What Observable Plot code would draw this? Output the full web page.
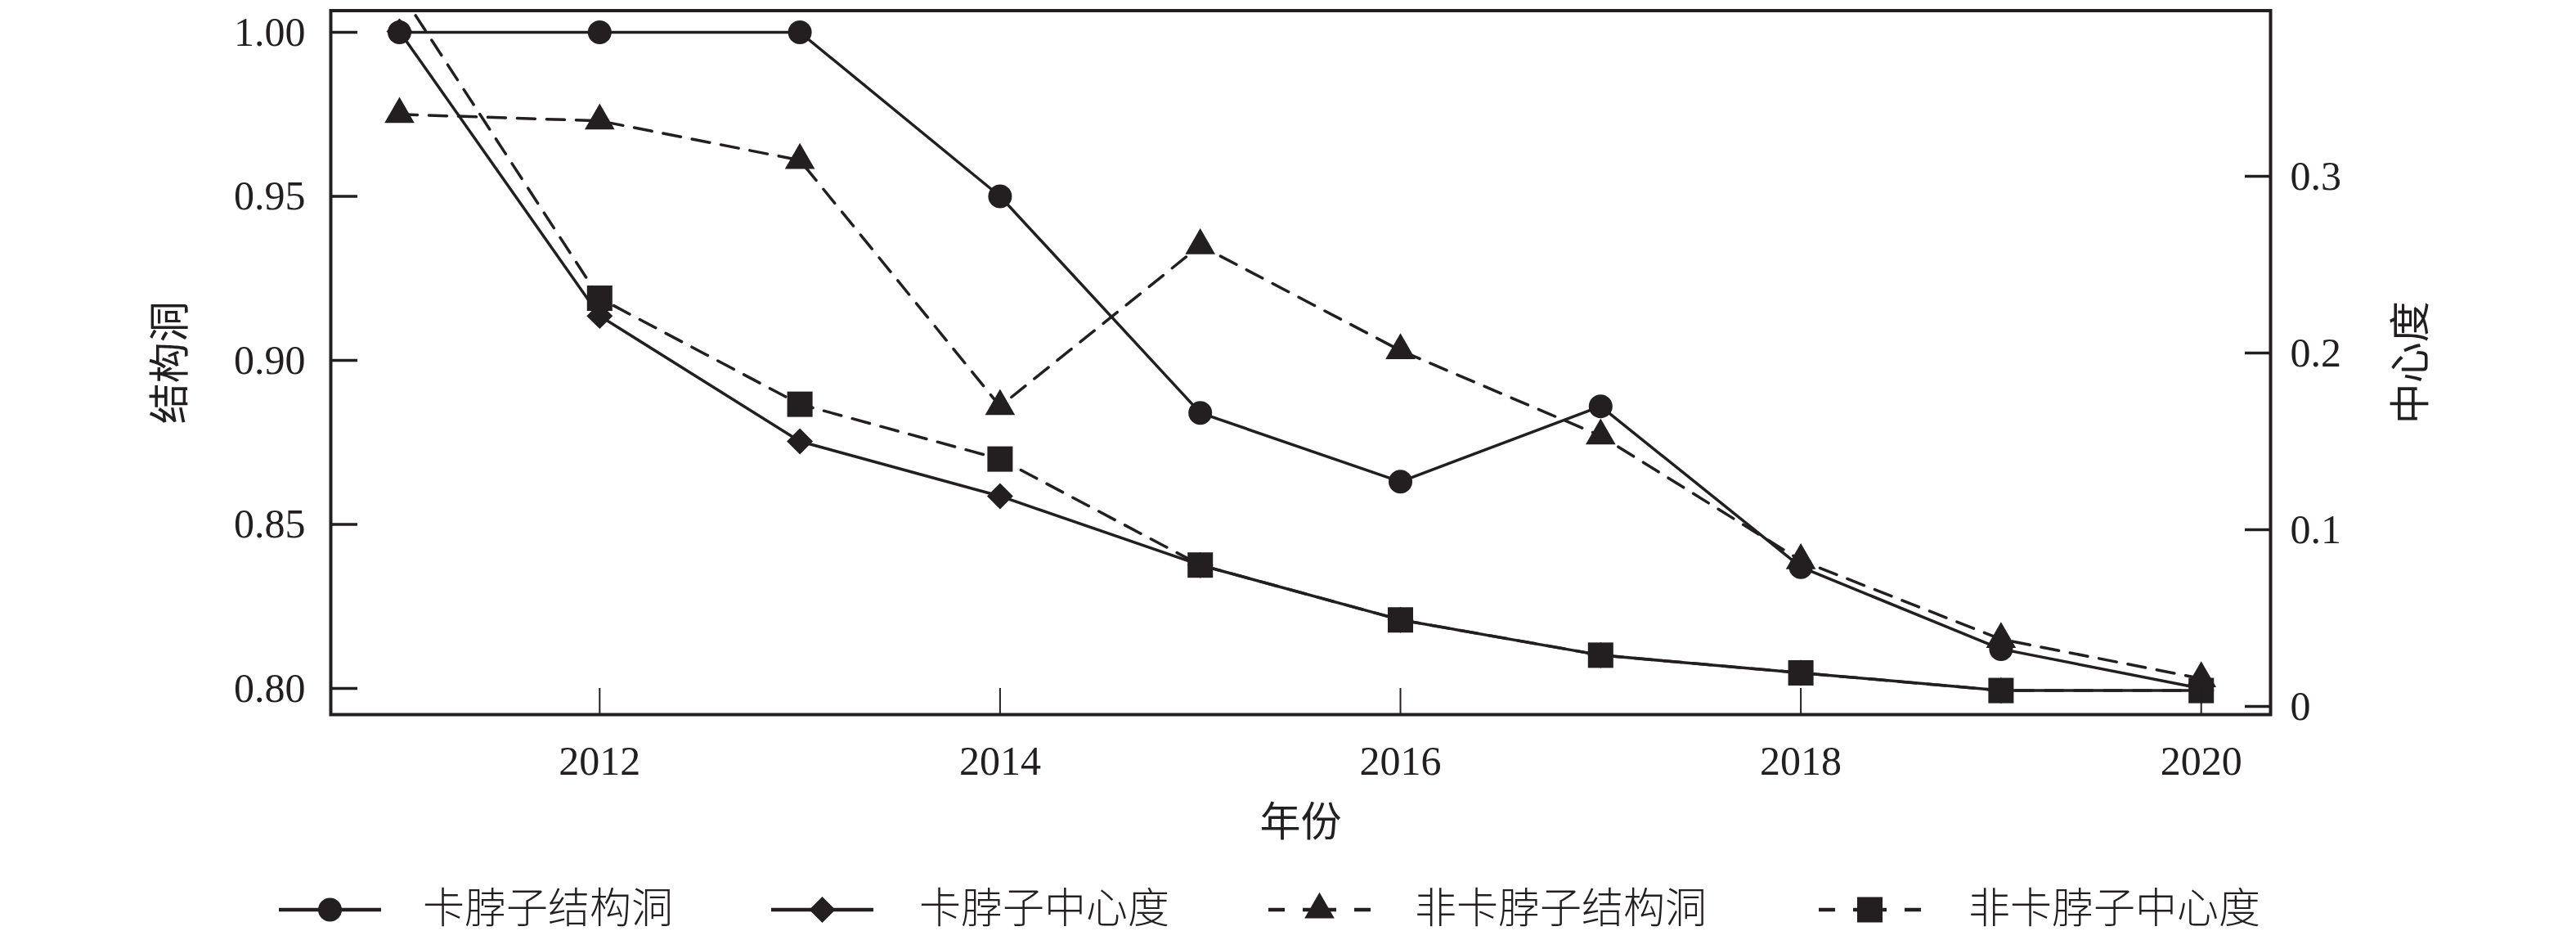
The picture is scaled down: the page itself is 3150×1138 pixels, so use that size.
<!DOCTYPE html>
<html>
<head>
<meta charset="utf-8">
<script src="https://cdn.jsdelivr.net/npm/d3@7"></script>
<script src="https://cdn.jsdelivr.net/npm/@observablehq/plot@0.6"></script>
<style>
  html, body { margin: 0; padding: 0; background: #fff; }
  #chart { width: 3150px; }
  #legend { position: relative; width: 3150px; height: 98px; color: #231f20;
    font-family: 'Liberation Serif', 'Noto Sans CJK SC', serif; font-size: 51px; font-weight: 300; }
  #legend .sw { position: absolute; top: 47px; }
  #legend .tx { position: absolute; top: 46px; line-height: 51px; white-space: nowrap; }
</style>
</head>
<body>
<div id="chart"></div>
<div id="legend"></div>
<script>
// ---------- data ----------
const years = [2011, 2012, 2013, 2014, 2015, 2016, 2017, 2018, 2019, 2020];
const seriesNames = ["卡脖子结构洞", "卡脖子中心度", "非卡脖子结构洞", "非卡脖子中心度"];
// left axis (结构洞)
const kbzHoles    = [1.000, 1.000, 1.000, 0.950, 0.884, 0.863, 0.886, 0.837, 0.812, 0.800];
const nonKbzHoles = [0.975, 0.973, 0.961, 0.886, 0.935, 0.903, 0.877, 0.839, 0.815, 0.803];
// right axis (中心度)
const kbzCent     = [0.382, 0.221, 0.150, 0.119, 0.080, 0.049, 0.029, 0.019, 0.009, 0.009];
const nonKbzCent  = [0.405, 0.231, 0.171, 0.140, 0.080, 0.049, 0.029, 0.019, 0.009, 0.009];
const leftTicks  = [0.80, 0.85, 0.90, 0.95, 1.00];
const rightTicks = [0, 0.1, 0.2, 0.3];
const xTicks     = [2012, 2014, 2016, 2018, 2020];
const xLabel = "年份", leftLabel = "结构洞", rightLabel = "中心度";

// ---------- layout ----------
const W = 3150, H = 1040;
const frameTop = 12.5, frameBottom = 873, frameLeft = 404, frameRight = 2776;
const ink = "#231f20";
const cjk = "'Liberation Serif', 'Noto Sans CJK SC', serif";

// dual-axis mapping (right values drawn on the left scale)
const pxPerLeft = 4010, pxPerRight = 2160, leftBase = 0.80, leftBasePx = 841, rightZeroPx = 863;
const toLeft = r => leftBase + (leftBasePx - (rightZeroPx - pxPerRight * r)) / pxPerLeft;
const fromLeft = l => (rightZeroPx - (leftBasePx - (l - leftBase) * pxPerLeft)) / pxPerRight;
const yDomain = [leftBase + (leftBasePx - frameBottom) / pxPerLeft, leftBase + (leftBasePx - frameTop) / pxPerLeft];
const pxPerYear = 244.8, firstYearPx = 488;
const xDomain = [years[0] - (firstYearPx - frameLeft) / pxPerYear, years[0] + (frameRight - firstYearPx) / pxPerYear];

const rows = (vals, map) => years.map((year, i) => ({year, v: map(vals[i])}));
const id = v => v;
const series = [
  {data: rows(kbzHoles, id),       symbol: "circle",   r: 14.5, dash: null},
  {data: rows(kbzCent, toLeft),    symbol: "diamond2", r: 14.4, dash: null},
  {data: rows(nonKbzHoles, id),    symbol: "triangle", r: 13.6, dash: "22,14"},
  {data: rows(nonKbzCent, toLeft), symbol: "square",   r: 17.5, dash: "22,14"}
];

const fmtRight = d => String(Math.round(fromLeft(d) * 10) / 10);

const marks = [];
series.forEach(s => {
  marks.push(Plot.line(s.data, {x: "year", y: "v", stroke: ink, strokeWidth: 3.5,
    strokeDasharray: s.dash ?? undefined, clip: true}));
  marks.push(Plot.dot(s.data, {x: "year", y: "v", symbol: s.symbol, r: s.r,
    fill: ink, stroke: "none", clip: true}));
});

const chart = Plot.plot({
  width: W, height: H,
  marginLeft: frameLeft, marginRight: W - frameRight,
  marginTop: frameTop, marginBottom: H - frameBottom,
  x: {domain: xDomain},
  y: {domain: yDomain},
  style: {fontFamily: cjk, fontSize: "50px", color: ink, background: "#fff", overflow: "visible"},
  marks: [
    ...marks,
    Plot.axisY(leftTicks, {anchor: "left", tickSize: 0, tickPadding: 31, fontSize: 50,
      tickFormat: d3.format(".2f"), label: leftLabel, labelAnchor: "center", labelOffset: 215, labelArrow: "none"}),
    Plot.axisY(leftTicks, {anchor: "left", tickSize: -33, fill: "none", stroke: ink, strokeWidth: 3.5}),
    Plot.axisY(rightTicks.map(toLeft), {anchor: "right", tickSize: 0, tickPadding: 24, fontSize: 50,
      tickFormat: fmtRight, label: rightLabel, labelAnchor: "center", labelOffset: 188, labelArrow: "none"}),
    Plot.axisY(rightTicks.map(toLeft), {anchor: "right", tickSize: -32, fill: "none", stroke: ink, strokeWidth: 3.5}),
    Plot.axisX(xTicks, {anchor: "bottom", tickSize: 0, tickPadding: 38, fontSize: 50,
      tickFormat: d => String(d), label: xLabel, labelAnchor: "center", labelOffset: 148, labelArrow: "none"}),
    Plot.axisX(xTicks, {anchor: "bottom", tickSize: -32, fill: "none", stroke: ink, strokeWidth: 2}),
    Plot.frame({stroke: ink, strokeWidth: 4})
  ]
});
document.getElementById("chart").appendChild(chart);

// ---------- legend ----------
const legendPos = [
  {sw: 341, tx: 517}, {sw: 943, tx: 1124}, {sw: 1551, tx: 1730}, {sw: 2224, tx: 2407}
];
const d3Sym = {circle: d3.symbolCircle, diamond2: d3.symbolDiamond2, triangle: d3.symbolTriangle, square: d3.symbolSquare};
const legend = d3.select("#legend");
series.forEach((s, i) => {
  const sw = legend.append("svg").attr("class", "sw").attr("width", 130).attr("height", 50)
    .style("left", legendPos[i].sw + "px");
  const l = sw.append("line").attr("x1", 0).attr("x2", 125).attr("y1", 25).attr("y2", 25)
    .attr("stroke", ink).attr("stroke-width", 4.5);
  if (s.dash) l.attr("stroke-dasharray", "20 22 41 22 20");
  sw.append("path").attr("transform", "translate(62.5,25)")
    .attr("d", d3.symbol(d3Sym[s.symbol], Math.PI * s.r * s.r)()).attr("fill", ink);
  legend.append("div").attr("class", "tx").style("left", legendPos[i].tx + "px").text(seriesNames[i]);
});
</script>
</body>
</html>
